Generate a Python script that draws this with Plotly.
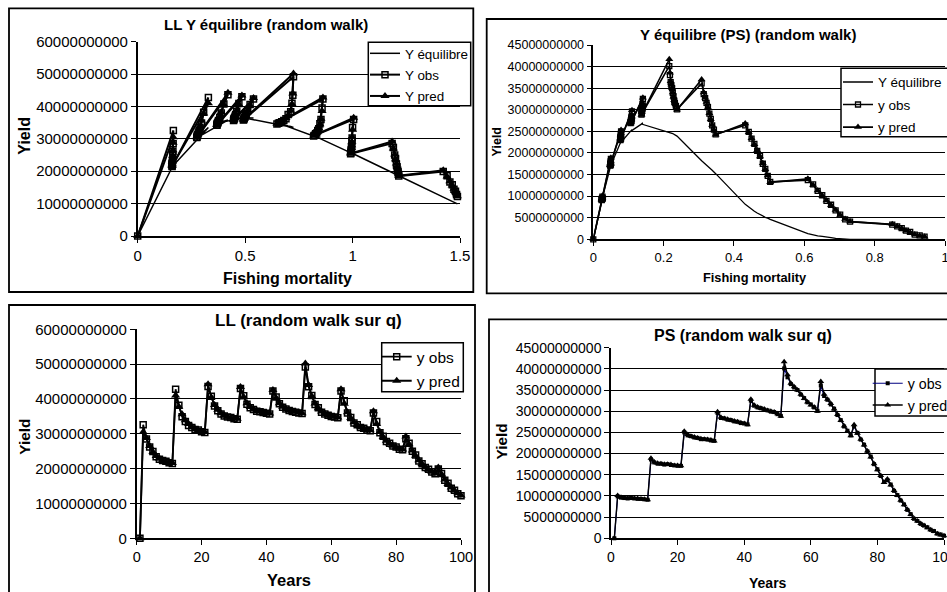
import plotly.graph_objects as go

W, H = 947, 592
FONT = "Liberation Sans, Arial, sans-serif"
BN = 1e9  # yields below are typed in billions

years = list(range(1, 101))

# ---------------- LL fleet ----------------
ll_f = [0.0,
        0.166, 0.165, 0.164, 0.163, 0.162, 0.161, 0.161, 0.160, 0.160, 0.160,
        0.329, 0.307, 0.297, 0.290, 0.285, 0.282, 0.279, 0.277, 0.276, 0.275,
        0.420, 0.401, 0.389, 0.382, 0.376, 0.373, 0.371, 0.370, 0.369, 0.368,
        0.485, 0.471, 0.461, 0.456, 0.453, 0.451, 0.449, 0.448, 0.447, 0.446,
        0.539, 0.523, 0.512, 0.505, 0.501, 0.498, 0.496, 0.495, 0.493, 0.492,
        0.725, 0.722, 0.718, 0.712, 0.700, 0.690, 0.680, 0.670, 0.660, 0.655, 0.648,
        0.862, 0.858, 0.853, 0.848, 0.843, 0.838, 0.833, 0.828, 0.823, 0.819,
        1.005, 1.000, 0.998, 0.997, 0.996, 0.995, 0.994, 0.993, 0.992, 0.991,
        1.184, 1.190, 1.196, 1.200, 1.204, 1.207, 1.210, 1.212, 1.214, 1.215,
        1.422, 1.440, 1.453, 1.464, 1.472, 1.479, 1.484, 1.488]

ll_y_pred = [0.0,
             30.5, 28.8, 26.5, 24.8, 23.6, 22.9, 22.4, 22.0, 21.8, 21.6,
             41.0, 37.8, 35.6, 33.9, 32.8, 32.0, 31.4, 31.0, 30.7, 30.5,
             44.2, 40.5, 38.3, 36.9, 35.9, 35.3, 34.9, 34.6, 34.4, 34.3,
             43.4, 40.6, 38.8, 37.7, 37.1, 36.7, 36.4, 36.2, 36.0, 35.8,
             42.6, 40.3, 38.8, 37.8, 37.2, 36.8, 36.5, 36.3, 36.1, 35.9,
             50.2, 44.0, 40.8, 38.7, 37.3, 36.4, 35.8, 35.4, 35.1, 34.9, 34.7,
             42.8, 38.6, 36.2, 34.5, 33.3, 32.5, 31.9, 31.5, 31.2, 31.0,
             36.5, 32.8, 30.6, 29.1, 28.0, 27.2, 26.6, 26.1, 25.7, 25.5,
             29.2, 27.0, 25.2, 23.7, 22.4, 21.3, 20.4, 19.7, 19.1, 18.6,
             20.3, 18.4, 16.9, 15.6, 14.6, 13.7, 12.9, 12.3]

ll_y_obs = [0.0,
            32.6, 28.5, 26.2, 24.9, 23.4, 22.7, 22.3, 22.1, 21.7, 21.5,
            42.8, 38.2, 34.9, 33.5, 32.4, 31.8, 31.2, 31.1, 30.6, 30.4,
            43.6, 40.8, 38.0, 36.6, 35.7, 35.1, 34.8, 34.7, 34.3, 34.2,
            43.0, 40.9, 38.5, 37.5, 37.0, 36.5, 36.3, 36.1, 35.9, 35.7,
            42.3, 40.6, 38.6, 37.6, 37.1, 36.7, 36.4, 36.2, 36.0, 35.8,
            49.2, 43.5, 41.0, 38.4, 37.5, 36.2, 35.7, 35.3, 35.0, 34.8, 34.6,
            42.3, 39.5, 36.0, 34.7, 33.1, 32.6, 31.8, 31.6, 31.1, 30.9,
            36.0, 33.5, 30.3, 29.3, 27.8, 27.3, 26.5, 26.2, 25.6, 25.4,
            28.6, 27.3, 25.0, 23.9, 22.2, 21.4, 20.3, 19.8, 19.0, 18.5,
            19.9, 18.6, 16.7, 15.8, 14.4, 13.8, 12.8, 12.2]

ll_y_eq = [0.0,
           22.0, 21.9, 21.8, 21.7, 21.6, 21.5, 21.5, 21.4, 21.4, 21.4,
           33.5, 32.4, 31.8, 31.3, 31.0, 30.8, 30.6, 30.5, 30.4, 30.3,
           35.8, 35.5, 35.2, 35.1, 35.0, 34.9, 34.9, 34.8, 34.8, 34.8,
           36.4, 36.3, 36.2, 36.2, 36.2, 36.1, 36.1, 36.1, 36.1, 36.1,
           36.4, 36.5, 36.5, 36.5, 36.5, 36.5, 36.5, 36.5, 36.5, 36.5,
           33.5, 33.6, 33.7, 33.8, 34.0, 34.2, 34.4, 34.6, 34.8, 34.9, 35.0,
           29.8, 29.9, 30.0, 30.2, 30.3, 30.5, 30.6, 30.8, 30.9, 31.0,
           25.3, 25.5, 25.5, 25.6, 25.6, 25.6, 25.7, 25.7, 25.7, 25.8,
           19.6, 19.4, 19.2, 19.1, 19.0, 18.9, 18.8, 18.7, 18.6, 18.6,
           12.0, 11.4, 11.0, 10.6, 10.4, 10.2, 10.0, 9.9]

# ---------------- PS fleet ----------------
ps_f = [0.0,
        0.026, 0.026, 0.025, 0.025, 0.025, 0.025, 0.025, 0.024, 0.024, 0.024,
        0.050, 0.050, 0.049, 0.049, 0.049, 0.049, 0.049, 0.048, 0.048, 0.048,
        0.079, 0.079, 0.078, 0.078, 0.078, 0.078, 0.077, 0.077, 0.077, 0.077,
        0.110, 0.109, 0.109, 0.108, 0.108, 0.108, 0.107, 0.107, 0.107, 0.106,
        0.141, 0.140, 0.140, 0.139, 0.139, 0.139, 0.138, 0.138, 0.138, 0.137,
        0.216, 0.218, 0.220, 0.222, 0.224, 0.226, 0.228, 0.230, 0.232, 0.235, 0.238,
        0.308, 0.314, 0.318, 0.322, 0.326, 0.330, 0.334, 0.338, 0.343, 0.348,
        0.432, 0.442, 0.450, 0.458, 0.466, 0.474, 0.482, 0.489, 0.496, 0.503,
        0.610, 0.625, 0.638, 0.651, 0.663, 0.676, 0.689, 0.702, 0.716, 0.730,
        0.850, 0.864, 0.877, 0.889, 0.901, 0.914, 0.928, 0.942]

ps_y_pred = [0.0,
             10.1, 9.7, 9.5, 9.5, 9.5, 9.4, 9.4, 9.3, 9.2, 9.1,
             18.9, 18.0, 17.7, 17.6, 17.5, 17.5, 17.4, 17.2, 17.2, 17.1,
             25.3, 24.5, 24.1, 23.9, 23.7, 23.5, 23.4, 23.3, 23.2, 23.0,
             29.9, 28.6, 28.3, 28.1, 27.9, 27.7, 27.5, 27.3, 27.1, 26.8,
             32.8, 31.4, 31.0, 30.7, 30.5, 30.2, 30.0, 29.8, 29.4, 28.8,
             41.7, 38.6, 36.6, 35.8, 35.0, 34.0, 33.0, 32.2, 31.5, 31.0, 30.0,
             37.0, 34.0, 32.8, 31.8, 30.5, 29.2, 27.8, 26.5, 25.3, 24.2,
             26.8, 24.8, 23.4, 22.0, 20.6, 19.2, 17.6, 16.2, 14.8, 13.2,
             14.0, 12.6, 11.3, 10.1, 9.0, 7.9, 6.8, 5.6, 4.7, 4.1,
             3.5, 3.0, 2.5, 2.0, 1.6, 1.1, 0.8, 0.6]

ps_y_obs = [0.0,
            9.9, 9.6, 9.5, 9.4, 9.5, 9.4, 9.3, 9.3, 9.2, 9.1,
            18.6, 17.9, 17.6, 17.6, 17.4, 17.5, 17.3, 17.2, 17.1, 17.1,
            25.0, 24.3, 24.1, 23.8, 23.7, 23.4, 23.4, 23.3, 23.1, 23.0,
            29.6, 28.4, 28.3, 28.0, 27.9, 27.6, 27.5, 27.2, 27.1, 26.9,
            32.5, 31.3, 30.9, 30.7, 30.4, 30.2, 29.9, 29.8, 29.3, 28.9,
            40.1, 38.0, 36.4, 35.6, 35.0, 33.9, 33.1, 32.1, 31.6, 30.9, 30.1,
            36.1, 33.6, 32.7, 31.6, 30.6, 29.1, 27.9, 26.4, 25.4, 24.3,
            26.4, 24.9, 23.3, 22.1, 20.5, 19.3, 17.5, 16.3, 14.7, 13.3,
            13.7, 12.7, 11.2, 10.2, 8.9, 8.0, 6.7, 5.7, 4.6, 4.1,
            3.4, 3.0, 2.6, 2.0, 1.7, 1.1, 0.9, 0.6]

ps_y_eq = [0.0,
           9.4, 9.4, 9.2, 9.2, 9.2, 9.2, 9.2, 9.0, 9.0, 9.0,
           17.2, 17.2, 17.0, 17.0, 17.0, 17.0, 17.0, 16.8, 16.8, 16.8,
           22.7, 22.7, 22.5, 22.5, 22.5, 22.5, 22.3, 22.3, 22.3, 22.3,
           25.4, 25.3, 25.3, 25.2, 25.2, 25.2, 25.1, 25.1, 25.1, 25.0,
           26.9, 26.9, 26.9, 26.8, 26.8, 26.8, 26.8, 26.8, 26.8, 26.7,
           24.9, 24.8, 24.8, 24.7, 24.6, 24.5, 24.4, 24.3, 24.2, 24.1, 23.9,
           18.2, 17.8, 17.5, 17.2, 16.9, 16.6, 16.3, 16.0, 15.6, 15.2,
           8.1, 7.4, 6.9, 6.5, 6.1, 5.7, 5.4, 5.1, 4.9, 4.6,
           1.3, 1.0, 0.8, 0.7, 0.6, 0.4, 0.2, 0.1, 0.0, 0.0,
           0.0, 0.0, 0.0, 0.0, 0.0, 0.0, 0.0, 0.0]


def bn(values):
    return [v * BN for v in values]


def px(x):
    return x / W


def py(y):
    return 1 - y / H


fig = go.Figure()


def add_line(x, y, name, axes, legend, group, width, color="black", marker=None):
    fig.add_trace(go.Scatter(
        x=x, y=bn(y), name=name, mode="lines+markers" if marker else "lines",
        xaxis=axes[0], yaxis=axes[1], legend=legend, legendgroup=group,
        line=dict(color=color, width=width), marker=marker,
        hoverinfo="skip", cliponaxis=False))


def sq_open(size, width):
    return dict(symbol="square-open", size=size, color="black", line=dict(color="black", width=width))


def tri(size):
    return dict(symbol="triangle-up", size=size, color="black", line=dict(width=0))


# top left: LL yield vs fishing mortality
add_line(ll_f, ll_y_eq, "Y équilibre", ("x", "y"), "legend", "a1", 1.5)
add_line(ll_f, ll_y_obs, "Y obs", ("x", "y"), "legend", "a2", 2, marker=sq_open(6, 1.5))
add_line(ll_f, ll_y_pred, "Y pred", ("x", "y"), "legend", "a3", 2, marker=tri(8))

# top right: PS yield vs fishing mortality
add_line(ps_f, ps_y_eq, "Y équilibre", ("x2", "y2"), "legend2", "b1", 1.3)
add_line(ps_f, ps_y_obs, "y obs", ("x2", "y2"), "legend2", "b2", 1.6, marker=sq_open(5, 1.3))
add_line(ps_f, ps_y_pred, "y pred", ("x2", "y2"), "legend2", "b3", 1.6, marker=tri(7))

# bottom left: LL yield over years
add_line(years, ll_y_obs, "y obs", ("x3", "y3"), "legend3", "c1", 1.8, marker=sq_open(6, 1.5))
add_line(years, ll_y_pred, "y pred", ("x3", "y3"), "legend3", "c2", 1.8, marker=tri(8))

# bottom right: PS yield over years
add_line(years, ps_y_obs, "y obs", ("x4", "y4"), "legend4", "d1", 1.2, color="#000080",
         marker=dict(symbol="square", size=4, color="black"))
add_line(years, ps_y_pred, "y pred", ("x4", "y4"), "legend4", "d2", 1.4, marker=tri(6))


def xaxis(dom, rng, dtick, size, anchor):
    return dict(domain=[px(dom[0]), px(dom[1])], range=rng, dtick=dtick, anchor=anchor,
                showline=True, linecolor="black", linewidth=1.5, ticks="outside",
                ticklen=5, tickwidth=1.3, tickcolor="black", showgrid=False,
                zeroline=False, fixedrange=True, automargin=False,
                ticklabeloverflow="allow",
                tickfont=dict(family=FONT, size=size, color="black"))


def yaxis(dom, top, size, anchor):
    return dict(domain=[py(dom[0]), py(dom[1])], range=[0, top * BN],
                dtick=(10 if top == 60 else 5) * BN,
                anchor=anchor, tickformat="d",
                showline=True, linecolor="black", linewidth=1.5, ticks="outside",
                ticklen=5, tickwidth=1.3, tickcolor="black",
                showgrid=True, gridcolor="black", gridwidth=1.3,
                zeroline=False, fixedrange=True, automargin=False,
                tickfont=dict(family=FONT, size=size, color="black"))


# legend entries sit on a framed white box drawn as a shape underneath
def legend(x, y, size, gap):
    return dict(x=px(x), y=py(y), xanchor="left", yanchor="top", bgcolor="rgba(0,0,0,0)",
                borderwidth=0, itemwidth=30, tracegroupgap=gap,
                font=dict(family=FONT, size=size, color="black"))


def text(s, x, y, size, bold=True, angle=0):
    return dict(text=f"<b>{s}</b>" if bold else s, x=px(x), y=py(y), xref="paper", yref="paper",
                xanchor="center", yanchor="middle", showarrow=False, textangle=angle,
                font=dict(family=FONT, size=size, color="black"))


def frame(x0, y0, x1, y1, width=1.8, fill="rgba(0,0,0,0)"):
    return dict(type="rect", xref="paper", yref="paper", x0=px(x0), x1=px(x1), y0=py(y0), y1=py(y1),
                line=dict(color="black", width=width), fillcolor=fill, layer="above")


fig.update_layout(
    width=W, height=H, autosize=False,
    # legends that run off the right edge must not shrink the drawing area
    margin=dict(l=0, r=0, t=0, b=0, autoexpand=False),
    paper_bgcolor="white", plot_bgcolor="white",
    xaxis=xaxis((137.7, 460), [0, 1.5], 0.5, 15, "y"),
    yaxis=yaxis((236, 41.7), 60, 15, "x"),
    xaxis2=xaxis((593.3, 945), [0, 1], 0.2, 13, "y2"),
    yaxis2=yaxis((239.3, 45), 45, 12.5, "x2"),
    xaxis3=xaxis((136.7, 461), [0, 100], 20, 14.5, "y3"),
    yaxis3=yaxis((538.3, 329.3), 60, 15, "x3"),
    xaxis4=xaxis((611, 944), [0, 100], 20, 14, "y4"),
    yaxis4=yaxis((538.3, 347.7), 45, 14, "x4"),
    legend=legend(365, 38.1, 13.4, 0.9),
    legend2=legend(838, 66.7, 13.5, 2),
    legend3=legend(376.7, 340.1, 15.5, 0.9),
    legend4=legend(867.7, 367.5, 14.2, 0.3),
    shapes=[frame(9, 8.3, 473.3, 292), frame(486.7, 19, 960, 293.3),
            frame(9, 305, 475, 600), frame(489, 319.3, 960, 600),
            frame(368.3, 42.3, 470.7, 105.7, 1.5, "white"),
            frame(841, 68.3, 960, 136.7, 1.5, "white"),
            frame(381.7, 342.7, 463.3, 391.7, 1.5, "white"),
            frame(875, 369, 960, 416, 1.5, "white")],
    annotations=[
        text("LL Y équilibre (random walk)", 265.5, 25, 15),
        text("Fishing mortality", 287.5, 278.3, 16),
        text("Yield", 25, 135.7, 16, angle=-90),
        text("Y équilibre (PS) (random walk)", 748.3, 35, 15),
        text("Fishing mortality", 755, 277.5, 12.8),
        text("Yield", 496.7, 141.7, 12.5, angle=-90),
        text("LL (random walk sur q)", 308.3, 320.7, 17),
        text("Years", 289.2, 580, 16.5),
        text("Yield", 25, 436.7, 15.3, angle=-90),
        text("PS (random walk sur q)", 742.5, 335, 16),
        text("Years", 767.5, 583.3, 14),
        text("Yield", 501.7, 441.7, 15.3, angle=-90),
    ],
)

fig.write_html("out.html", config={"displayModeBar": False})
